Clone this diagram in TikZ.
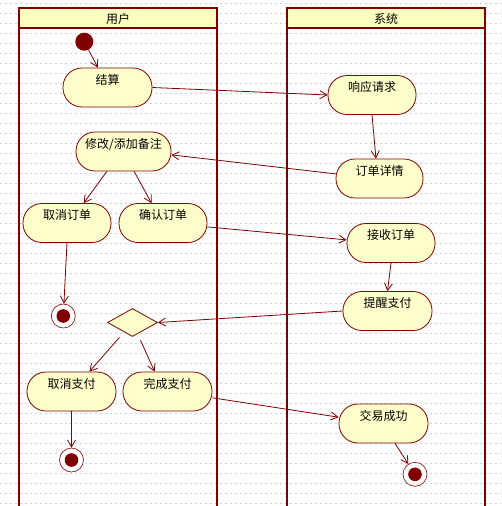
\documentclass[tikz,border=0pt]{standalone}
\usepackage{fontspec}
\newfontfamily\cjk{Noto Sans CJK SC}
\usetikzlibrary{arrows.meta,shapes.geometric}
\definecolor{dred}{HTML}{800000}
\definecolor{nfill}{HTML}{FFFFCC}
\definecolor{hfill}{HTML}{FFFFC0}
\begin{document}
\begin{tikzpicture}[x=1pt,y=-1pt,
  act/.style={draw=dred, line width=0.8pt, fill=nfill, rectangle, rounded corners=19pt,
    minimum width=89pt, inner sep=0pt, text height=16pt, text depth=23pt, font=\cjk\fontsize{12}{14}\selectfont},
  startnode/.style={circle, fill=dred, minimum size=18pt, inner sep=0pt},
  endnode/.style={circle, draw=dred, line width=0.6pt, fill=white, minimum size=24pt, inner sep=0pt,
    path picture={\fill[dred] (path picture bounding box.center) circle (6.8pt);}},
  decision/.style={diamond, draw=dred, line width=0.8pt, fill=nfill, minimum width=50pt, minimum height=28pt, inner sep=0pt},
  flow/.style={draw=dred, line width=0.8pt, -{Straight Barb[length=7pt,width=8pt]}},
  lane/.style={draw=dred, line width=2pt},
  head/.style={font=\cjk\fontsize{12}{14}\selectfont}
]
\useasboundingbox (0,0) rectangle (501,506);
\fill[white] (0,0) rectangle (501,506);
\foreach \y in {3,13,...,503} \draw[black!18, line width=0.8pt, dash pattern=on 2pt off 3pt] (0,\y) -- (501,\y);

% lanes
\fill[hfill] (19,8) rectangle (217,28);
\fill[hfill] (287,8) rectangle (485,28);
\draw[lane] (19,506) -- (19,8) -- (217,8) -- (217,506);
\draw[lane] (19,28) -- (217,28);
\draw[lane] (287,506) -- (287,8) -- (485,8) -- (485,506);
\draw[lane] (287,28) -- (485,28);
\node[head] (h1) at (118,18.5) {用户};
\node[head] (h2) at (386,18.5) {系统};

% nodes
\node[startnode] (init) at (84.3,41.7) {};
\node[act] (jiesuan) at (107.5,87.5) {结算};
\node[act, minimum width=95pt] (xiugai) at (123.5,151.5) {修改/添加备注};
\node[act, minimum width=88pt] (quxiaodd) at (67,223) {取消订单};
\node[act, minimum width=88pt] (queren) at (163,223) {确认订单};
\node[endnode] (f1) at (63.3,316) {};
\node[decision] (dec) at (132.5,322.5) {};
\node[act] (quxiaozf) at (71.5,391.5) {取消支付};
\node[act] (wancheng) at (167.5,391.5) {完成支付};
\node[endnode] (f2) at (71.5,460) {};
\node[act, minimum width=88pt] (xiangying) at (372,95) {响应请求};
\node[act, minimum width=87pt] (dingdan) at (379.5,178.5) {订单详情};
\node[act, minimum width=88pt] (jieshou) at (391,243) {接收订单};
\node[act] (tixing) at (387.5,311) {提醒支付};
\node[act] (jiaoyi) at (383.5,423.5) {交易成功};
\node[endnode] (f3) at (415,474.3) {};

% connectors
\draw[flow] (init) -- (jiesuan.116);
\draw[flow] (jiesuan.east) -- (xiangying.west);
\draw[flow] (xiangying.south) -- (dingdan.100);
\draw[flow] (dingdan.174) -- (xiugai.356);
\draw[flow] (xiugai.230) -- (quxiaodd.50);
\draw[flow] (xiugai.298) -- (queren.120);
\draw[flow] (queren.355) -- (jieshou.176);
\draw[flow] (quxiaodd.south) -- (f1);
\draw[flow] (jieshou.south) -- (tixing.north);
\draw[flow] (tixing.west) -- (dec.east);
\draw[flow, shorten <=7pt] (dec) -- (quxiaozf.48);
\draw[flow, shorten <=7pt] (dec) -- (wancheng.123);
\draw[flow] (quxiaozf.south) -- (f2);
\draw[flow] (wancheng.352) -- (jiaoyi.172);
\draw[flow] (jiaoyi.300) -- (f3);
\end{tikzpicture}
\end{document}
